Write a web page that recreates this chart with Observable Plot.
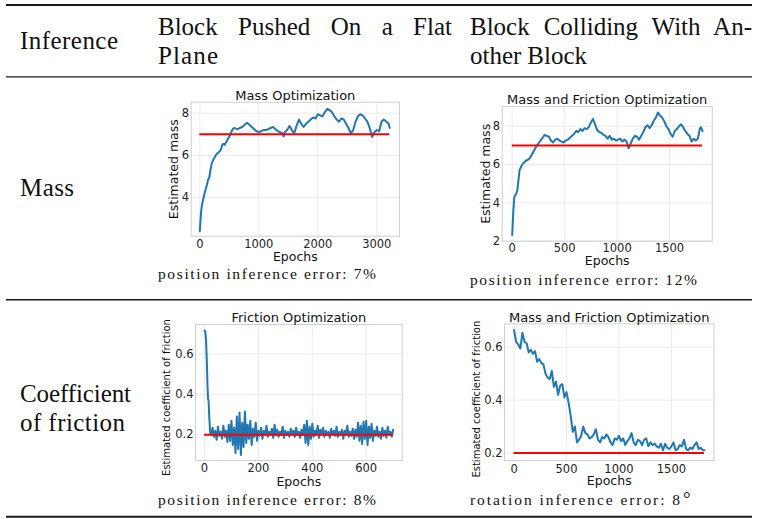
<!DOCTYPE html>
<html><head><meta charset="utf-8">
<script src="https://cdn.jsdelivr.net/npm/d3@7"></script>
<script src="https://cdn.jsdelivr.net/npm/@observablehq/plot@0.6"></script>
<style>
html,body{margin:0;padding:0;background:#fff;}
#page{position:relative;width:757px;height:519px;overflow:hidden;background:#fff;}
</style></head>
<body><div id="page"></div>
<script>
// ---------- table text ----------
const headerLines = [["Inference"], ["Block Pushed On a Flat", "Plane"], ["Block Colliding With An-", "other Block"]];
const rowLabels = [["Mass"], ["Coefficient", "of friction"]];
const captions = ["position inference error: 7%", "position inference error: 12%", "position inference error: 8%", "rotation inference error: 8°"];
const chartTitles = ["Mass Optimization", "Mass and Friction Optimization", "Friction Optimization", "Mass and Friction Optimization"];
const yLabels = ["Estimated mass", "Estimated mass", "Estimated coefficient of friction", "Estimated coefficient of friction"];
const xLabel = "Epochs";
const targetMass = 7;
const targetFriction = 0.2;

// ---------- tick values ----------
const ticksX1 = [0, 1000, 2000, 3000];
const ticksY1 = [4, 6, 8];
const ticksX2 = [0, 500, 1000, 1500];
const ticksY2 = [2, 4, 6, 8];
const ticksX3 = [0, 200, 400, 600];
const ticksY3 = [0.2, 0.4, 0.6];
const ticksX4 = [0, 500, 1000, 1500];
const ticksY4 = [0.2, 0.4, 0.6];

// ---------- series: [epoch, estimate] ----------
const massPushed = [[0,2.42],[20,3.3],[40,3.72],[60,3.95],[80,4.2],[100,4.4],[120,4.6],[140,4.85],[160,4.95],[180,5.3],[200,5.6],[220,5.75],[240,5.85],[260,5.95],[280,6.05],[300,6.1],[320,6.15],[340,6.2],[360,6.3],[380,6.5],[400,6.55],[420,6.5],[440,6.6],[460,6.7],[480,6.8],[500,6.9],[520,7.0],[540,7.15],[560,7.25],[580,7.3],[600,7.28],[640,7.25],[680,7.3],[720,7.35],[760,7.45],[800,7.55],[840,7.45],[880,7.35],[920,7.25],[960,7.15],[1000,7.1],[1040,7.15],[1080,7.2],[1120,7.2],[1160,7.25],[1200,7.3],[1240,7.35],[1280,7.25],[1320,7.15],[1360,7.1],[1400,7.05],[1420,6.9],[1440,7.1],[1480,7.2],[1520,7.4],[1560,7.2],[1600,7.05],[1640,7.4],[1680,7.7],[1720,7.5],[1760,7.35],[1800,7.5],[1840,7.6],[1880,7.7],[1920,7.8],[1960,7.75],[2000,7.95],[2040,7.9],[2080,7.85],[2120,8.05],[2160,8.2],[2200,8.15],[2240,8.05],[2280,7.85],[2320,7.7],[2360,7.6],[2400,7.75],[2440,7.7],[2480,7.5],[2520,7.3],[2560,7.05],[2600,7.2],[2640,7.6],[2680,7.85],[2720,7.95],[2760,7.9],[2800,7.75],[2840,7.6],[2880,7.3],[2920,6.87],[2960,7.1],[3000,7.2],[3040,7.15],[3080,7.6],[3120,7.7],[3160,7.6],[3200,7.5],[3220,7.3]];

const massColliding = [[0,2.32],[10,3.5],[20,4.3],[40,4.5],[50,4.7],[60,5.2],[70,5.7],[90,5.95],[110,6.1],[130,6.2],[150,6.25],[170,6.35],[190,6.55],[210,6.75],[230,6.95],[250,7.1],[270,7.25],[290,7.4],[310,7.55],[330,7.5],[350,7.45],[370,7.25],[390,7.15],[410,7.3],[430,7.35],[450,7.25],[470,7.2],[490,7.15],[510,7.25],[530,7.3],[550,7.4],[570,7.5],[590,7.6],[610,7.75],[630,7.7],[650,7.85],[670,7.75],[690,7.9],[710,7.85],[730,7.95],[750,8.2],[770,8.38],[790,8.1],[810,7.8],[830,7.7],[850,7.65],[870,7.55],[890,7.5],[910,7.35],[930,7.5],[950,7.3],[970,7.35],[990,7.25],[1010,7.3],[1030,7.35],[1050,7.2],[1070,7.3],[1090,7.2],[1110,6.85],[1130,7.1],[1150,7.35],[1170,7.5],[1190,7.45],[1210,7.3],[1230,7.5],[1250,7.7],[1270,7.95],[1290,8.05],[1310,7.9],[1330,8.05],[1350,8.3],[1370,8.45],[1390,8.72],[1410,8.55],[1430,8.45],[1450,8.25],[1470,8.0],[1490,7.85],[1510,7.6],[1530,7.45],[1550,7.75],[1570,7.85],[1590,8.0],[1610,8.1],[1630,7.95],[1650,7.75],[1670,7.6],[1690,7.5],[1710,7.2],[1730,7.35],[1750,7.25],[1770,7.35],[1790,7.9],[1800,7.95],[1815,7.75]];

const frictionPushed = [[0,0.715],[3,0.71],[6,0.66],[9,0.55],[11,0.45],[13,0.38],[15,0.37],[18,0.28],[21,0.21],[25,0.2],[30,0.235],[35,0.19],[40,0.22],[45,0.175],[50,0.24],[55,0.195],[60,0.215],[65,0.18],[70,0.245],[75,0.19],[80,0.22],[85,0.165],[90,0.25],[95,0.17],[100,0.27],[105,0.15],[110,0.235],[115,0.11],[120,0.29],[125,0.13],[130,0.31],[135,0.10],[140,0.26],[145,0.14],[150,0.315],[155,0.16],[160,0.25],[165,0.18],[170,0.27],[175,0.15],[180,0.23],[185,0.19],[190,0.26],[195,0.17],[200,0.22],[205,0.195],[210,0.235],[215,0.18],[220,0.22],[225,0.2],[230,0.245],[235,0.19],[240,0.215],[245,0.2],[250,0.23],[255,0.185],[260,0.25],[265,0.2],[270,0.225],[275,0.19],[280,0.215],[285,0.2],[290,0.24],[295,0.185],[300,0.22],[305,0.2],[310,0.215],[315,0.19],[320,0.23],[325,0.205],[330,0.22],[335,0.19],[340,0.235],[345,0.2],[350,0.215],[355,0.185],[360,0.225],[365,0.2],[370,0.25],[375,0.16],[380,0.27],[385,0.15],[390,0.24],[395,0.18],[400,0.255],[405,0.19],[410,0.22],[415,0.2],[420,0.245],[425,0.185],[430,0.225],[435,0.205],[440,0.235],[445,0.19],[450,0.22],[455,0.2],[460,0.215],[465,0.185],[470,0.23],[475,0.2],[480,0.22],[485,0.195],[490,0.24],[495,0.19],[500,0.215],[505,0.2],[510,0.225],[515,0.18],[520,0.22],[525,0.2],[530,0.245],[535,0.19],[540,0.215],[545,0.195],[550,0.23],[555,0.18],[560,0.225],[565,0.19],[570,0.26],[575,0.17],[580,0.245],[585,0.155],[590,0.265],[595,0.18],[600,0.27],[605,0.15],[610,0.24],[615,0.185],[620,0.255],[625,0.17],[630,0.22],[635,0.195],[640,0.24],[645,0.19],[650,0.215],[655,0.18],[660,0.235],[665,0.195],[670,0.22],[675,0.185],[680,0.24],[685,0.2],[690,0.215],[695,0.19],[700,0.225]];

const frictionColliding = [[0,0.665],[20,0.62],[40,0.61],[60,0.595],[80,0.655],[100,0.62],[120,0.615],[140,0.58],[160,0.59],[180,0.575],[200,0.585],[220,0.545],[240,0.555],[260,0.54],[280,0.535],[300,0.50],[320,0.485],[340,0.48],[360,0.51],[380,0.45],[400,0.47],[420,0.42],[440,0.455],[460,0.46],[480,0.41],[500,0.43],[520,0.39],[540,0.34],[560,0.28],[580,0.30],[600,0.24],[620,0.25],[640,0.265],[660,0.30],[680,0.275],[700,0.27],[720,0.255],[740,0.26],[760,0.27],[780,0.29],[800,0.25],[820,0.24],[840,0.26],[860,0.255],[880,0.27],[900,0.26],[920,0.24],[940,0.23],[960,0.255],[980,0.25],[1000,0.265],[1020,0.245],[1040,0.255],[1060,0.23],[1080,0.245],[1100,0.255],[1120,0.275],[1140,0.24],[1160,0.23],[1180,0.25],[1200,0.245],[1220,0.23],[1240,0.25],[1260,0.255],[1280,0.225],[1300,0.24],[1320,0.23],[1340,0.235],[1360,0.225],[1380,0.22],[1400,0.235],[1420,0.21],[1440,0.235],[1460,0.22],[1480,0.215],[1500,0.225],[1520,0.24],[1540,0.21],[1560,0.215],[1580,0.23],[1600,0.225],[1620,0.25],[1640,0.215],[1660,0.21],[1680,0.22],[1700,0.215],[1720,0.23],[1740,0.24],[1760,0.215],[1780,0.22],[1800,0.21],[1815,0.21]];

// ---------- table drawing ----------
const page = d3.select("#page");
const tsvg = page.append("svg").attr("width", 757).attr("height", 519)
  .style("position", "absolute").style("left", "0px").style("top", "0px");

const rules = [{y: 5, w: 2}, {y: 76.9, w: 1.4}, {y: 299.7, w: 1.4}, {y: 516.7, w: 2}];
tsvg.selectAll("line.rule").data(rules).join("line")
  .attr("x1", 6).attr("x2", 752).attr("y1", d => d.y).attr("y2", d => d.y)
  .attr("stroke", "#1a1a1a").attr("stroke-width", d => d.w);

const serif = "'Liberation Serif', 'DejaVu Serif', serif";
// mode: "justify" spreads word gaps to reach width; otherwise spreads letters
function addText(str, x, y, size, width, mode) {
  const t = tsvg.append("text").attr("x", x).attr("y", y)
    .attr("font-family", serif).attr("font-size", size).attr("fill", "#111").text(str);
  if (width) {
    const nat = t.node().getComputedTextLength();
    if (mode === "justify") {
      const gaps = (str.match(/ /g) || []).length;
      if (gaps) t.attr("word-spacing", (width - nat) / gaps);
    } else {
      t.attr("letter-spacing", (width - nat) / Math.max(1, str.length - 1));
    }
  }
  return t;
}
// header
addText(headerLines[0][0], 20, 48.5, 25, 98);
addText(headerLines[1][0], 158, 34.5, 25, 294, "justify");
addText(headerLines[1][1], 158, 63.5, 25, 60);
addText(headerLines[2][0], 470, 34.5, 25, 282, "justify");
addText(headerLines[2][1], 470, 63.5, 25, 117, "justify");
// row labels
addText(rowLabels[0][0], 20, 196, 25, 54);
addText(rowLabels[1][0], 20, 402, 25, 111);
addText(rowLabels[1][1], 20, 431, 25, 105);
// captions
addText(captions[0], 158, 279, 15.5, 218);
addText(captions[1], 470, 285, 15.5, 227);
addText(captions[2], 158, 504.5, 15.5, 218);
{
  const c = captions[3];
  const main = c.slice(0, -1), deg = c.slice(-1);
  const t = addText(main, 470, 504.5, 15.5, 210);
  t.append("tspan").text(deg).attr("font-size", 19).attr("dx", 1).attr("letter-spacing", 0);
}

// ---------- charts ----------
const fmt = d => String(d);
function drawChart(c) {
  const [L, T, R, B] = c.frame;
  const ml = L - c.left, mr = c.left + c.width - R, mt = T - c.top, mb = c.top + c.height - B;
  const first = c.data[0][0], last = c.data[c.data.length - 1][0];
  const plot = Plot.plot({
    width: c.width, height: c.height,
    marginLeft: ml, marginRight: mr, marginTop: mt, marginBottom: mb,
    style: {fontFamily: "'DejaVu Sans', sans-serif", fontSize: "11.5px", color: "#222", background: "transparent", overflow: "visible"},
    x: {domain: c.xDomain, axis: null},
    y: {domain: c.yDomain, axis: null},
    marks: [
      Plot.gridX(c.xTicks, {stroke: "#ebebeb", strokeOpacity: 1, strokeWidth: 1}),
      Plot.gridY(c.yTicks, {stroke: "#ebebeb", strokeOpacity: 1, strokeWidth: 1}),
      Plot.frame({stroke: "#cfcfcf", strokeWidth: 1}),
      Plot.axisX(c.xTicks, {tickSize: 0, tickPadding: c.xPad, label: null, fill: "#222", fontSize: 11.5, tickFormat: fmt}),
      Plot.axisY(c.yTicks, {tickSize: 0, tickPadding: 2, label: null, fill: "#222", fontSize: 11.5, tickFormat: fmt}),
      Plot.line(c.data, {x: d => d[0], y: d => d[1], stroke: "#1f77b4", strokeWidth: 2}),
      Plot.ruleY([c.target], {x1: first, x2: last, stroke: "#ff0000", strokeWidth: 2}),
      Plot.text([c.title], {text: d => d, frameAnchor: "top", textAnchor: "middle", dy: c.titleDy, lineAnchor: "middle", fontSize: 13, fill: "#111"}),
      Plot.text([xLabel], {text: d => d, frameAnchor: "bottom", textAnchor: "middle", dy: c.xlabDy, lineAnchor: "middle", fontSize: 12.5, fill: "#111"}),
      Plot.text([c.ylabel], {text: d => d, frameAnchor: "left", textAnchor: "middle", dx: c.ylabDx, dy: c.ylabDy, rotate: -90, lineAnchor: "middle", fontSize: c.ylabSize, fill: "#111"})
    ]
  });
  d3.select(plot).style("position", "absolute").style("left", c.left + "px").style("top", c.top + "px");
  page.node().appendChild(plot);
}

drawChart({data: massPushed, target: targetMass, title: chartTitles[0], ylabel: yLabels[0], ylabSize: 12.5,
  frame: [190.7, 101.7, 399, 235.7], left: 140, top: 85, width: 265, height: 180,
  xDomain: [-146, 3385], yDomain: [2.18, 8.52], xTicks: ticksX1, yTicks: ticksY1,
  xPad: 4, titleDy: -6.7, xlabDy: 21, ylabDx: -17.4, ylabDy: 0});
drawChart({data: massColliding, target: targetMass, title: chartTitles[1], ylabel: yLabels[1], ylabSize: 12.5,
  frame: [501.7, 106, 711.7, 240.7], left: 455, top: 88, width: 262, height: 180,
  xDomain: [-95.3, 1906.7], yDomain: [2.0, 9.03], xTicks: ticksX2, yTicks: ticksY2,
  xPad: 2.5, titleDy: -7, xlabDy: 19.3, ylabDx: -16.7, ylabDy: 0});
drawChart({data: frictionPushed, target: targetFriction, title: chartTitles[2], ylabel: yLabels[2], ylabSize: 10,
  frame: [195, 324, 401.7, 460], left: 150, top: 305, width: 258, height: 180,
  xDomain: [-33.4, 733.6], yDomain: [0.073, 0.745], xTicks: ticksX3, yTicks: ticksY3,
  xPad: 3.7, titleDy: -6.3, xlabDy: 21, ylabDx: -28.3, ylabDy: 5});
drawChart({data: frictionColliding, target: targetFriction, title: chartTitles[3], ylabel: yLabels[3], ylabSize: 10,
  frame: [504, 323.3, 713.5, 460], left: 455, top: 305, width: 262, height: 180,
  xDomain: [-91, 1906], yDomain: [0.1715, 0.6885], xTicks: ticksX4, yTicks: ticksY4,
  xPad: 4.3, titleDy: -5.6, xlabDy: 20.7, ylabDx: -27.3, ylabDy: 7});
</script>
</body></html>
